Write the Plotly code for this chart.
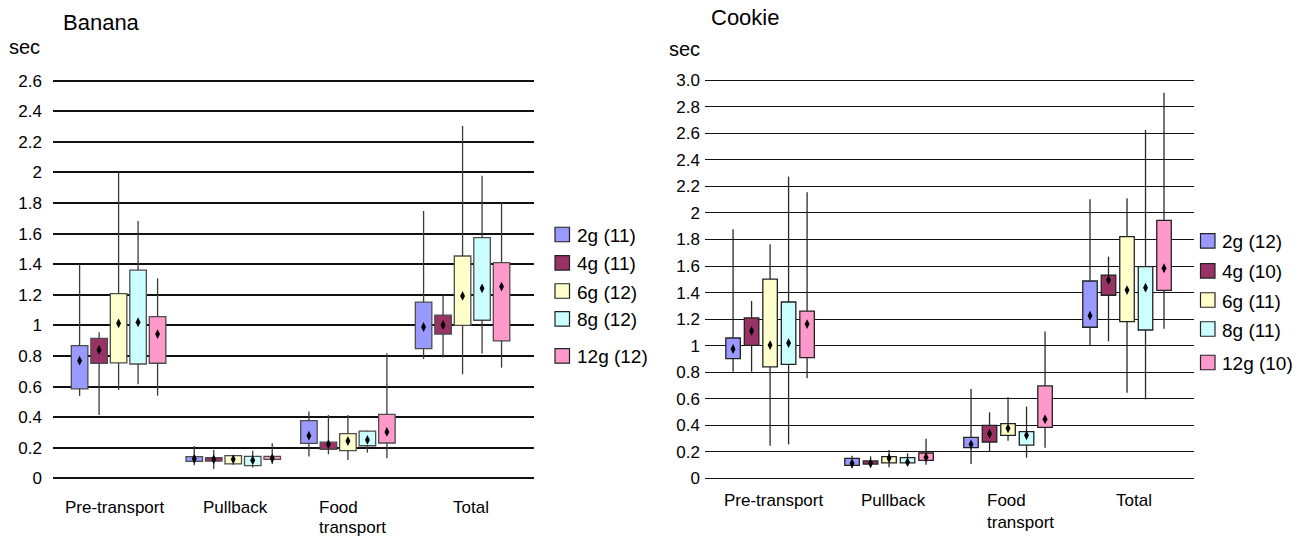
import plotly.graph_objects as go

# ---------------- data ----------------
categories = ["Pre-transport", "Pullback", "Food<br>transport", "Total"]
series = ["2g", "4g", "6g", "8g", "12g"]
colors = ["#9999FF", "#993366", "#FFFFCC", "#CCFFFF", "#FF99CC"]

banana_n = [11, 11, 12, 12, 12]
cookie_n = [12, 10, 11, 11, 10]

# Banana: per series, values for the 4 categories
banana_low = [
    [0.540, 0.086, 0.143, 0.781],
    [0.415, 0.062, 0.158, 0.790],
    [0.578, 0.090, 0.121, 0.681],
    [0.616, 0.071, 0.169, 0.816],
    [0.541, 0.095, 0.132, 0.724],
]
banana_q1 = [
    [0.585, 0.112, 0.230, 0.848],
    [0.753, 0.114, 0.191, 0.944],
    [0.755, 0.095, 0.182, 1.001],
    [0.748, 0.084, 0.214, 1.034],
    [0.753, 0.125, 0.232, 0.899],
]
banana_mid = [
    [0.770, 0.129, 0.280, 0.990],
    [0.840, 0.125, 0.224, 1.003],
    [1.014, 0.125, 0.245, 1.193],
    [1.021, 0.119, 0.252, 1.243],
    [0.944, 0.132, 0.304, 1.254],
]
banana_q3 = [
    [0.868, 0.143, 0.378, 1.152],
    [0.916, 0.136, 0.237, 1.067],
    [1.208, 0.149, 0.293, 1.454],
    [1.361, 0.145, 0.310, 1.574],
    [1.058, 0.145, 0.419, 1.411],
]
banana_high = [
    [1.400, 0.212, 0.437, 1.748],
    [0.955, 0.186, 0.415, 1.199],
    [2.000, 0.154, 0.415, 2.304],
    [1.683, 0.182, 0.313, 1.979],
    [1.308, 0.230, 0.818, 1.805],
]

# Cookie
cookie_low = [
    [0.804, 0.077, 0.109, 1.005],
    [0.804, 0.084, 0.207, 1.033],
    [0.247, 0.084, 0.285, 0.646],
    [0.257, 0.097, 0.157, 0.596],
    [0.754, 0.104, 0.232, 1.128],
]
cookie_q1 = [
    [0.902, 0.099, 0.232, 1.139],
    [1.003, 0.109, 0.275, 1.380],
    [0.840, 0.117, 0.325, 1.181],
    [0.860, 0.117, 0.252, 1.118],
    [0.910, 0.137, 0.385, 1.417],
]
cookie_mid = [
    [0.975, 0.114, 0.257, 1.226],
    [1.111, 0.114, 0.337, 1.495],
    [1.005, 0.152, 0.378, 1.419],
    [1.020, 0.124, 0.325, 1.437],
    [1.163, 0.160, 0.446, 1.583],
]
cookie_q3 = [
    [1.058, 0.152, 0.310, 1.487],
    [1.209, 0.132, 0.400, 1.532],
    [1.502, 0.164, 0.413, 1.821],
    [1.329, 0.157, 0.353, 1.595],
    [1.261, 0.192, 0.697, 1.944],
]
cookie_high = [
    [1.876, 0.172, 0.674, 2.102],
    [1.337, 0.167, 0.498, 1.670],
    [1.763, 0.215, 0.611, 2.110],
    [2.273, 0.190, 0.541, 2.624],
    [2.155, 0.300, 1.106, 2.905],
]

banana_ticks = [0, 0.2, 0.4, 0.6, 0.8, 1, 1.2, 1.4, 1.6, 1.8, 2, 2.2, 2.4, 2.6]
banana_ticktext = ["0", "0.2", "0.4", "0.6", "0.8", "1", "1.2", "1.4", "1.6", "1.8", "2", "2.2", "2.4", "2.6"]
cookie_ticks = [0, 0.2, 0.4, 0.6, 0.8, 1, 1.2, 1.4, 1.6, 1.8, 2, 2.2, 2.4, 2.6, 2.8, 3.0]
cookie_ticktext = ["0", "0.2", "0.4", "0.6", "0.8", "1", "1.2", "1.4", "1.6", "1.8", "2", "2.2", "2.4", "2.6", "2.8", "3.0"]

# ---------------- figure ----------------
W, H = 1312, 538
FONT = "Liberation Sans, Arial, sans-serif"
fig = go.Figure()


def add_panel(xa, ya, low, q1, mid, q3, high, step, width, outline, wcolor):
    for s in range(len(series)):
        off = (s - 2) * step
        xs = [i + off for i in range(len(categories))]
        # whiskers (outside the box)
        wx, wy = [], []
        for i, x in enumerate(xs):
            wx += [x, x, None, x, x, None]
            wy += [low[s][i], q1[s][i], None, q3[s][i], high[s][i], None]
        fig.add_trace(go.Scatter(x=wx, y=wy, mode="lines", xaxis=xa, yaxis=ya,
                                 line=dict(color=wcolor, width=1.3),
                                 showlegend=False, hoverinfo="skip"))
        # boxes
        fig.add_trace(go.Bar(x=xs, y=[q3[s][i] - q1[s][i] for i in range(len(xs))],
                             base=q1[s], width=width, xaxis=xa, yaxis=ya,
                             marker=dict(color=colors[s], line=dict(color=outline, width=1.3)),
                             showlegend=False, name=series[s]))
        # centre diamonds
        fig.add_trace(go.Scatter(x=xs, y=mid[s], mode="markers", xaxis=xa, yaxis=ya,
                                 marker=dict(symbol="diamond-tall", size=7, color="black"),
                                 showlegend=False, name=series[s]))


add_panel("x", "y", banana_low, banana_q1, banana_mid, banana_q3, banana_high,
          0.170, 0.144, "#4d4d4d", "#3a3a3a")
add_panel("x2", "y2", cookie_low, cookie_q1, cookie_mid, cookie_q3, cookie_high,
          0.1555, 0.122, "#222222", "#2a2a2a")

axis_x = dict(showgrid=False, zeroline=False, showticklabels=False, showline=False, fixedrange=True)
fig.update_layout(
    width=W, height=H,
    margin=dict(l=0, r=0, t=0, b=0),
    paper_bgcolor="white", plot_bgcolor="white",
    barmode="overlay",
    showlegend=False,
    font=dict(family=FONT, color="black"),
    xaxis=dict(domain=[53 / W, 534 / W], range=[-0.572, 3.623], **axis_x),
    xaxis2=dict(domain=[705 / W, 1194 / W], range=[-0.547, 3.563], anchor="y2", **axis_x),
    yaxis=dict(domain=[0, 1], range=[-0.389, 3.127], tickvals=banana_ticks, ticktext=banana_ticktext,
               showgrid=True, gridcolor="#111111", gridwidth=1.6, zeroline=False, showline=False,
               ticks="", ticklabelstandoff=10, tickfont=dict(size=17, family=FONT, color="black")),
    yaxis2=dict(domain=[0, 1], range=[-0.448, 3.603], tickvals=cookie_ticks, ticktext=cookie_ticktext,
                anchor="x2", showgrid=True, gridcolor="#111111", gridwidth=1.2, zeroline=False,
                showline=False, ticks="", ticklabelstandoff=4,
                tickfont=dict(size=17, family=FONT, color="black")),
)

ann = []
shapes = []


def px_x(px):
    return px / W


def px_y(py):
    return 1 - py / H


# titles and unit labels
ann.append(dict(text="Banana", x=px_x(61), y=px_y(23), xref="paper", yref="paper",
                xanchor="left", yanchor="middle", showarrow=False, font=dict(size=22)))
ann.append(dict(text="Cookie", x=px_x(709), y=px_y(17), xref="paper", yref="paper",
                xanchor="left", yanchor="middle", showarrow=False, font=dict(size=22)))
ann.append(dict(text="sec", x=px_x(42), y=px_y(47), xref="paper", yref="paper",
                xanchor="right", yanchor="middle", showarrow=False, font=dict(size=20)))
ann.append(dict(text="sec", x=px_x(702), y=px_y(49), xref="paper", yref="paper",
                xanchor="right", yanchor="middle", showarrow=False, font=dict(size=20)))

# category labels (one annotation per text line)
panels = [
    ("x", [507, 527], [-4, 2, -31, 8]),
    ("x2", [500, 522], [3, 4, -23, 7]),
]
for xref, line_y, shifts in panels:
    for i, c in enumerate(categories):
        lines = c.split("<br>")
        anchor = "center" if len(lines) == 1 else "left"
        for k, line in enumerate(lines):
            ann.append(dict(text=line, x=i, xref=xref, y=px_y(line_y[k]), yref="paper",
                            xanchor=anchor, yanchor="middle", showarrow=False,
                            xshift=shifts[i], font=dict(size=17)))

# legends
banana_rows = [234.5, 262.8, 291.0, 318.8, 355.8]
cookie_rows = [240.8, 270.8, 300.0, 329.0, 362.5]
for s in range(len(series)):
    for rows, x0, ns in ((banana_rows, 555, banana_n), (cookie_rows, 1200.5, cookie_n)):
        yc = rows[s]
        shapes.append(dict(type="rect", xref="paper", yref="paper",
                           x0=px_x(x0), x1=px_x(x0 + 14.5), y0=px_y(yc - 7.25), y1=px_y(yc + 7.25),
                           fillcolor=colors[s], line=dict(color="#222222", width=1.2)))
        ann.append(dict(text=f"{series[s]} ({ns[s]})", x=px_x(x0 + 19.5), y=px_y(yc + 1),
                        xref="paper", yref="paper", xanchor="left", yanchor="middle",
                        showarrow=False, font=dict(size=19)))

fig.update_layout(annotations=ann, shapes=shapes)
fig.write_html("out.html")
